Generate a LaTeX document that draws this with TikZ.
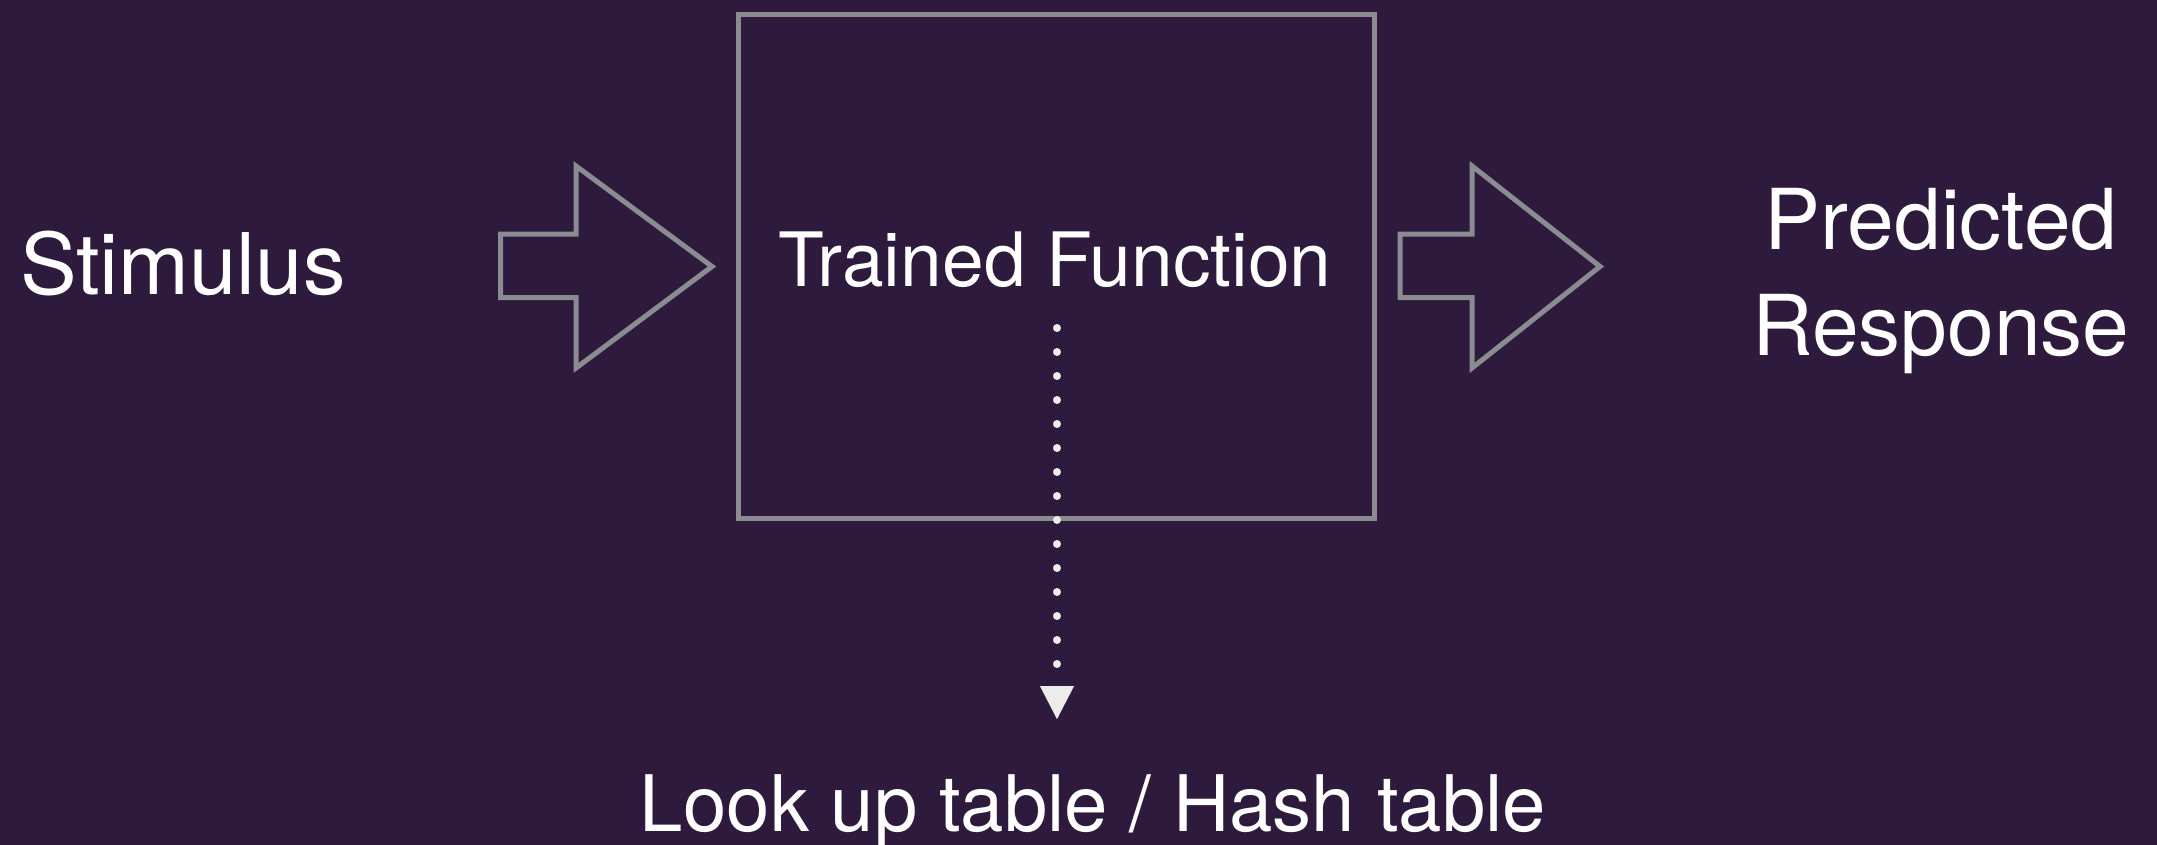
\documentclass[tikz,border=0pt]{standalone}
\usepackage{fontspec}
\setmainfont{TeX Gyre Heros}
\usetikzlibrary{arrows.meta}
\definecolor{bgpurple}{RGB}{45,26,61}
\definecolor{outlinegray}{RGB}{138,140,146}
\definecolor{dotwhite}{RGB}{236,236,236}
\tikzset{
  label text/.style={text=white, inner sep=0pt, outer sep=0pt},
  outline/.style={draw=outlinegray, line width=5pt, line join=miter},
  dotline/.style={draw=dotwhite, line width=8pt, line cap=round,
    dash pattern=on 0pt off 24pt,
    -{Triangle[length=33pt, width=34pt, line width=0.01pt, fill=dotwhite]}},
}
\begin{document}
\begin{tikzpicture}[x=1pt, y=-1pt]
\fill[bgpurple] (0,0) rectangle (2157,845);
\useasboundingbox (0,0) rectangle (2157,845);

% box
\node[outline, minimum width=636pt, minimum height=503pt, inner sep=0pt] (box) at (1056,266.5) {};

% block arrows
\draw[outline] (500.7,234) -- (576,234) -- (576,166) -- (712,266.5) -- (576,368) -- (576,297.5) -- (500.7,297.5) -- cycle;
\draw[outline] (1400,234) -- (1472,234) -- (1472,166) -- (1600,266.5) -- (1472,368) -- (1472,297.5) -- (1400,297.5) -- cycle;

% texts
\node[label text, anchor=base west, font=\fontsize{85}{100}\selectfont] (stim) at (20,294) {Stimulus};
\node[label text, anchor=base, font=\fontsize{75}{90}\selectfont] (tf) at (1055,286) {Trained Function};
\node[label text, align=center, anchor=center, font=\fontsize{84}{106}\selectfont] (resp) at (1941,281) {Predicted\\Response};
\node[label text, anchor=base, font=\fontsize{78}{94}\selectfont] (lut) at (1093,831) {Look up table / Hash table};

% dotted connector
\coordinate (dstart) at (1057,328);
\coordinate (dend) at (1057,719);
\draw[dotline] (dstart) -- (dend);
\end{tikzpicture}
\end{document}
